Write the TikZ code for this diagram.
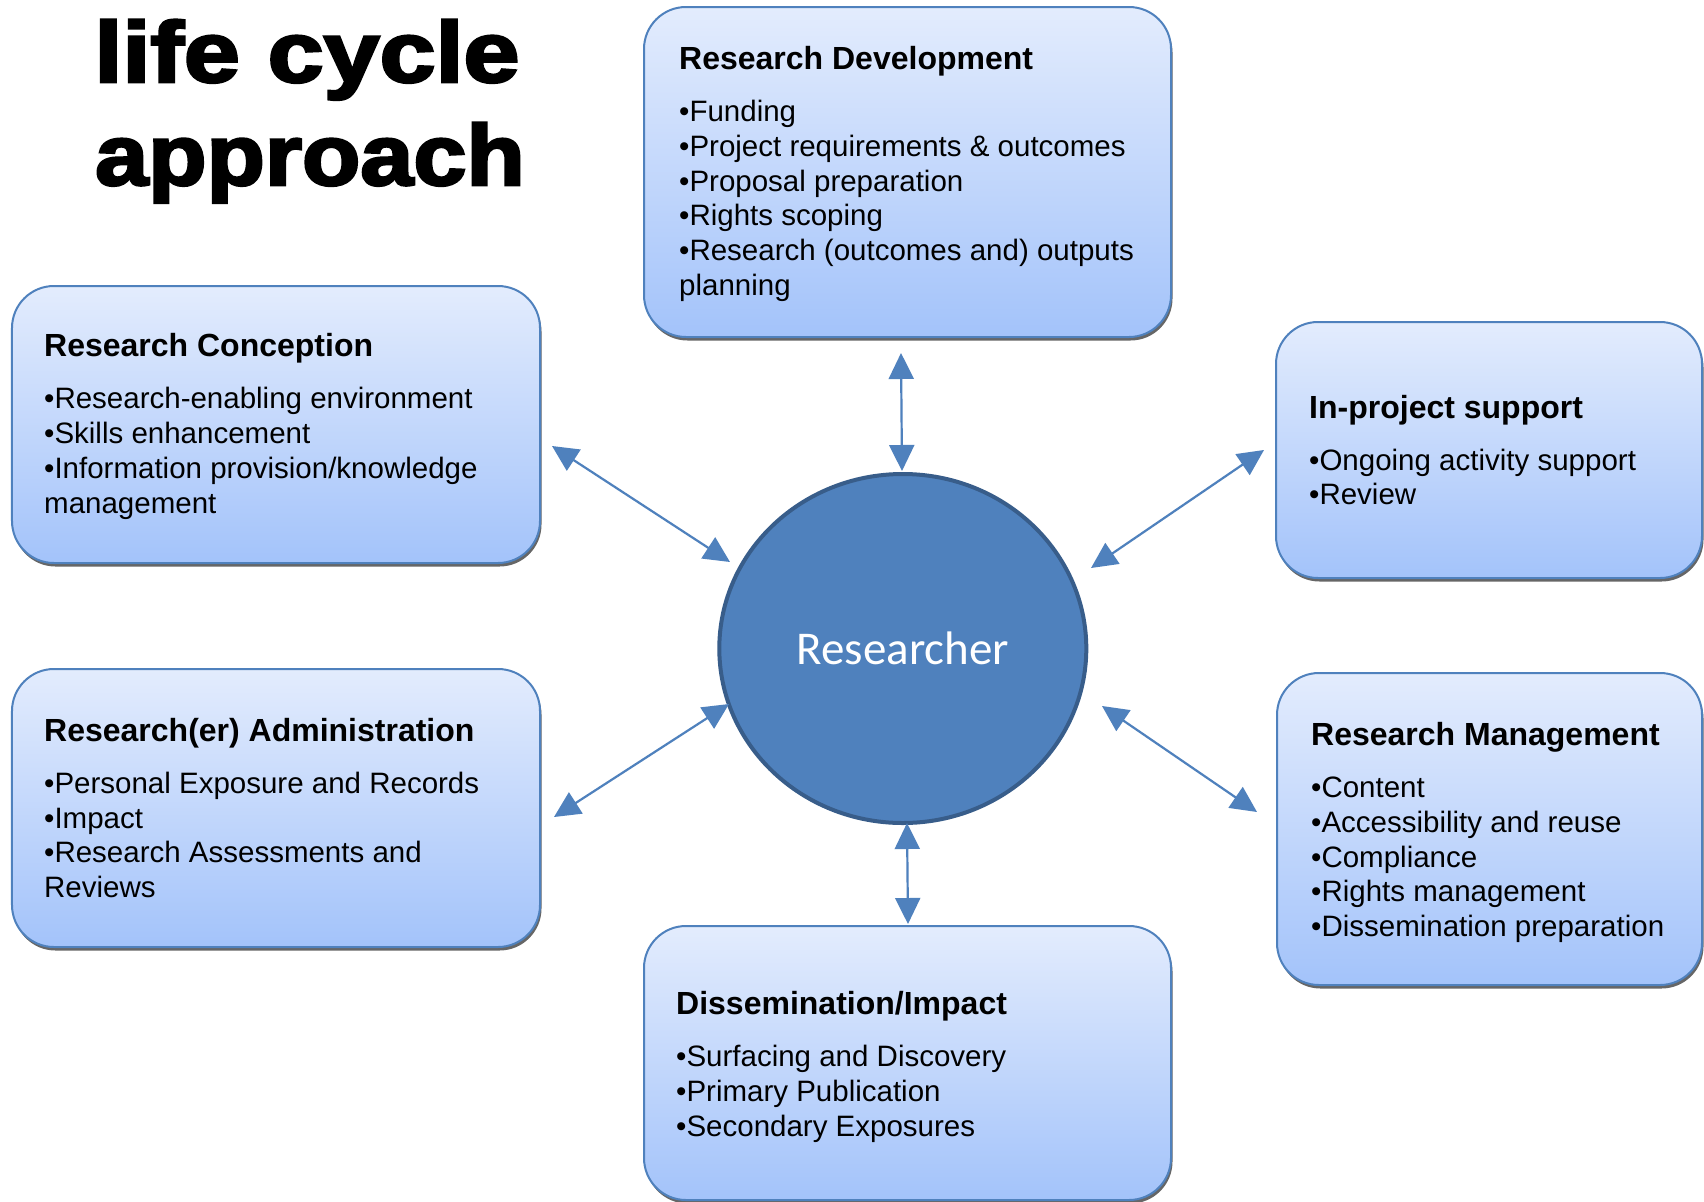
\documentclass[tikz,border=0pt]{standalone}
\usepackage{fontspec}
\usepackage{graphicx}
\setmainfont{Liberation Sans}
\newfontfamily\calibrifont{Carlito}
\newfontfamily\titlefont[FakeBold=3]{Liberation Sans Bold}
\usetikzlibrary{arrows.meta,shapes.geometric,shadows}
\definecolor{boxline}{RGB}{79,129,189}
\definecolor{boxtop}{RGB}{227,236,253}
\definecolor{boxbot}{RGB}{163,195,250}
\definecolor{ballfill}{RGB}{79,129,189}
\definecolor{balledge}{RGB}{56,93,138}
\definecolor{arrowcol}{RGB}{79,129,189}
\newcommand\bodyfont{\fontsize{29.5bp}{34.8bp}\selectfont}
\newcommand\hd[1]{{\fontsize{32bp}{34.8bp}\selectfont\bfseries #1}\\[17.2bp]}
\tikzset{
  box/.style={rounded corners=42bp, draw=boxline, line width=2bp,
    top color=boxtop, bottom color=boxbot, inner sep=0pt,
    drop shadow={shadow xshift=1.5bp, shadow yshift=-3.5bp, fill=black, opacity=0.6}},
  boxtext/.style={anchor=west, align=left, inner sep=0pt, font=\bodyfont, text=black},
  link/.style={draw=arrowcol, line width=2.2bp,
    {Triangle[length=26bp,width=25bp]}-{Triangle[length=26bp,width=25bp]}},
  titletext/.style={anchor=base, inner sep=0pt, font=\titlefont\fontsize{86bp}{86bp}\selectfont}
}
\begin{document}
\begin{tikzpicture}[x=1bp,y=-1bp]
\useasboundingbox (0,0) rectangle (1704,1201);
\fill[white] (0,0) rectangle (1704,1201);

% title
\node[titletext] (t1) at (307,82) {\scalebox{1.17}[1]{life cycle}};
\node[titletext] (t2) at (310,185) {\scalebox{1.11}[1]{approach}};

% boxes
\node[box, minimum width=527bp, minimum height=330bp] (dev) at (907.5,172) {};
\node[boxtext, yshift=-2bp] (devt) at ([xshift=36bp]dev.west) {\hd{Research Development}%
•Funding\\
•Project requirements \& outcomes\\
•Proposal preparation\\
•Rights scoping\\
•Research (outcomes and) outputs\\
planning};

\node[box, minimum width=528bp, minimum height=277bp] (conc) at (276,424.5) {};
\node[boxtext, yshift=-2bp] (conct) at ([xshift=33bp]conc.west) {\hd{Research Conception}%
•Research-enabling environment\\
•Skills enhancement\\
•Information provision/knowledge\\
management};

\node[box, minimum width=426bp, minimum height=256bp] (inproj) at (1489,450) {};
\node[boxtext] (inprojt) at ([xshift=34bp]inproj.west) {\hd{In-project support}%
•Ongoing activity support\\
•Review};

\node[box, minimum width=528bp, minimum height=278bp] (admin) at (276,808) {};
\node[boxtext] (admint) at ([xshift=33bp]admin.west) {\hd{Research(er) Administration}%
•Personal Exposure and Records\\
•Impact\\
•Research Assessments and\\
Reviews};

\node[box, minimum width=425bp, minimum height=312bp] (mgmt) at (1489.5,829) {};
\node[boxtext, yshift=-3.5bp] (mgmtt) at ([xshift=35bp]mgmt.west) {\hd{Research Management}%
•Content\\
•Accessibility and reuse\\
•Compliance\\
•Rights management\\
•Dissemination preparation};

\node[box, minimum width=527bp, minimum height=274bp] (diss) at (907.5,1063) {};
\node[boxtext, yshift=-4bp] (disst) at ([xshift=33bp]diss.west) {\hd{Dissemination/Impact}%
•Surfacing and Discovery\\
•Primary Publication\\
•Secondary Exposures};

% centre
\node[ellipse, fill=ballfill, draw=balledge, line width=4bp,
  minimum width=367bp, minimum height=349bp, inner sep=0pt,
  font=\calibrifont\fontsize{47bp}{47bp}\selectfont, text=white] (res) at (902.8,648.5) {Researcher};

% arrow end points
\coordinate (a1) at (901,353);  \coordinate (b1) at (902,471);
\coordinate (a2) at (552,446);  \coordinate (b2) at (730,562);
\coordinate (a3) at (554,817);  \coordinate (b3) at (729,704);
\coordinate (a4) at (1264,450); \coordinate (b4) at (1091,568);
\coordinate (a5) at (1257,812); \coordinate (b5) at (1102,706);
\coordinate (a6) at (908,924);  \coordinate (b6) at (907,823);

\draw[link] (a1) -- (b1);
\draw[link] (a2) -- (b2);
\draw[link] (a3) -- (b3);
\draw[link] (a4) -- (b4);
\draw[link] (a5) -- (b5);
\draw[link] (a6) -- (b6);
\end{tikzpicture}
\end{document}
